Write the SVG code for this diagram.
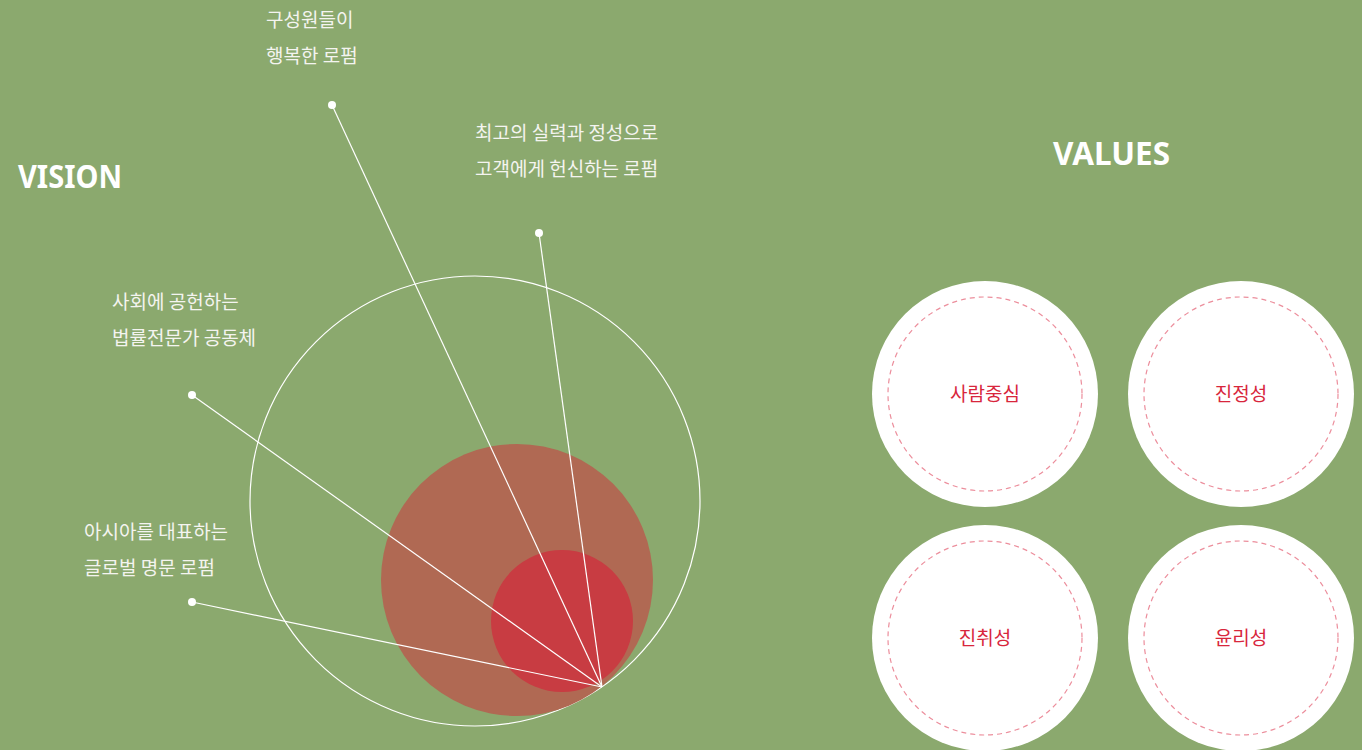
<svg xmlns="http://www.w3.org/2000/svg" width="1362" height="750" viewBox="0 0 1362 750">
<style>
.title{font-family:"Noto Sans","Liberation Sans",sans-serif;font-weight:700;font-size:32px;fill:#ffffff}
.lbl{font-family:"Noto Sans CJK KR","Noto Sans",sans-serif;font-size:19px;fill:#f4f4f0}
.val{font-family:"Noto Sans CJK KR","Noto Sans",sans-serif;font-size:19px;fill:#d8263c;text-anchor:middle}
.dot{fill:#ffffff}
.ln{stroke:#ffffff;stroke-width:1.2;fill:none}
.outer{fill:#ffffff}
.dash{fill:none;stroke:#ec8e9c;stroke-width:1.2;stroke-dasharray:5 4}
</style>
<rect width="1362" height="750" fill="#8ba96e"/>
<text class="title" x="18" y="188" textLength="104" lengthAdjust="spacingAndGlyphs">VISION</text>
<text class="title" x="1053" y="165" textLength="117" lengthAdjust="spacingAndGlyphs">VALUES</text>
<g id="circles">
<circle cx="475" cy="501" r="225" fill="none" stroke="#ffffff" stroke-width="1.2"/>
<circle cx="517" cy="580" r="136" fill="#b06953"/>
<circle cx="562" cy="621" r="71" fill="#c83c42"/>
</g>
<g id="connectors">
<line class="ln" x1="332" y1="105" x2="602" y2="687"/>
<line class="ln" x1="539" y1="233" x2="602" y2="687"/>
<line class="ln" x1="192" y1="395" x2="602" y2="687"/>
<line class="ln" x1="192" y1="602" x2="602" y2="687"/>
</g>
<g id="label-happy">
<circle class="dot" cx="332" cy="105" r="4"/>
<text class="lbl" x="266" y="27">구성원들이</text>
<text class="lbl" x="266" y="63">행복한 로펌</text>
</g>
<g id="label-best">
<circle class="dot" cx="539" cy="233" r="4"/>
<text class="lbl" x="475" y="140">최고의 실력과 정성으로</text>
<text class="lbl" x="475" y="176">고객에게 헌신하는 로펌</text>
</g>
<g id="label-society">
<circle class="dot" cx="192" cy="395" r="4"/>
<text class="lbl" x="112" y="309">사회에 공헌하는</text>
<text class="lbl" x="112" y="345">법률전문가 공동체</text>
</g>
<g id="label-asia">
<circle class="dot" cx="192" cy="602" r="4"/>
<text class="lbl" x="84" y="539">아시아를 대표하는</text>
<text class="lbl" x="84" y="575">글로벌 명문 로펌</text>
</g>
<g id="value-people">
<circle class="outer" cx="985" cy="394" r="113"/>
<circle class="dash" cx="985" cy="394" r="97"/>
<text class="val" x="985" y="401">사람중심</text>
</g>
<g id="value-sincerity">
<circle class="outer" cx="1241" cy="394" r="113"/>
<circle class="dash" cx="1241" cy="394" r="97"/>
<text class="val" x="1241" y="401">진정성</text>
</g>
<g id="value-progress">
<circle class="outer" cx="985" cy="638" r="113"/>
<circle class="dash" cx="985" cy="638" r="97"/>
<text class="val" x="985" y="645">진취성</text>
</g>
<g id="value-ethics">
<circle class="outer" cx="1241" cy="638" r="113"/>
<circle class="dash" cx="1241" cy="638" r="97"/>
<text class="val" x="1241" y="645">윤리성</text>
</g>
</svg>
